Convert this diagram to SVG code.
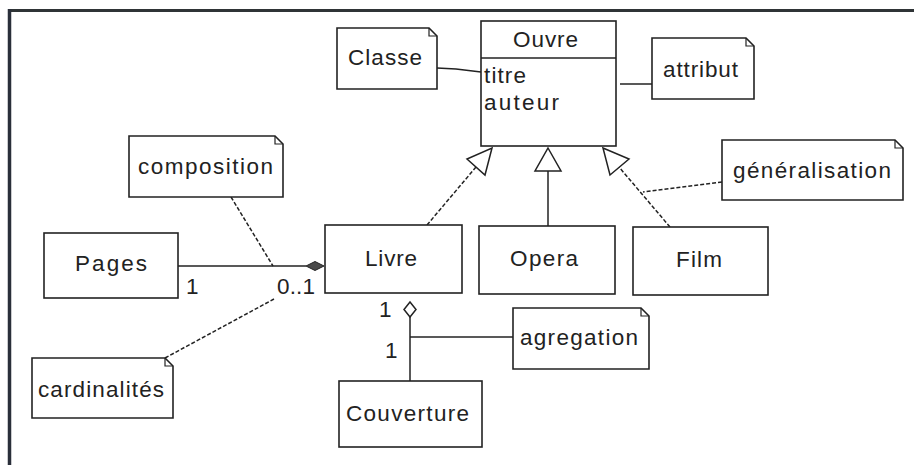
<svg xmlns="http://www.w3.org/2000/svg" width="914" height="466" viewBox="0 0 914 466">
  <style>
    .box { fill: #ffffff; stroke: #222; stroke-width: 1.6; }
    .note { fill: #ffffff; stroke: #222; stroke-width: 1.6; stroke-linejoin: miter; }
    .fold { fill: none; stroke: #222; stroke-width: 1.2; }
    .ln { fill: none; stroke: #222; stroke-width: 1.5; }
    .dash { fill: none; stroke: #222; stroke-width: 1.5; stroke-dasharray: 4 2; }
    .tri { fill: #ffffff; stroke: #222; stroke-width: 1.5; stroke-linejoin: miter; }
    .t { font-family: "Liberation Sans", Arial, sans-serif; font-size: 22.5px; fill: #222; }
  </style>
  <defs>
    <linearGradient id="bottomFade" x1="0" y1="0" x2="1" y2="0">
      <stop offset="0" stop-color="#2a2f3a"/>
      <stop offset="0.6" stop-color="#555"/>
      <stop offset="1" stop-color="#e8e8e0"/>
    </linearGradient>
  </defs>

  <rect x="0" y="0" width="914" height="466" fill="#ffffff"/>

  <!-- frame -->
  <g id="frame">
    <line x1="8" y1="10.5" x2="914" y2="10.5" stroke="#2f3436" stroke-width="3"/>
    <line x1="9.5" y1="9" x2="9.5" y2="465" stroke="#2a2f3a" stroke-width="3.5"/>
    <line x1="8" y1="463.5" x2="914" y2="463.5" stroke="url(#bottomFade)" stroke-width="2.5"/>
  </g>

  <!-- connectors -->
  <g id="connectors">
    <!-- note links -->
    <path class="ln" d="M437,68 L456,69 L481,72"/>
    <path class="ln" d="M620,84 H652"/>
    <path class="dash" d="M231,197 L273,266"/>
    <path class="dash" d="M165,358 L274,299"/>
    <path class="dash" d="M722,182 L643,192"/>
    <path class="ln" d="M410,337 H513"/>

    <!-- composition Pages - Livre -->
    <path class="ln" d="M178,266 H306"/>
    <polygon points="324,266 315,261.5 306,266 315,270.5" fill="#4a4a4a" stroke="#222" stroke-width="1"/>

    <!-- aggregation Livre - Couverture -->
    <path class="ln" d="M410,317 V381"/>
    <polygon class="tri" points="410,302 416,309.5 410,317 404,309.5"/>

    <!-- generalisations to Ouvre -->
    <path class="dash" d="M427,225 L476,167"/>
    <polygon class="tri" points="492,148 485,175 467,159"/>
    <path class="ln" d="M548,226 V171"/>
    <polygon class="tri" points="548,148 561,171 535,171"/>
    <path class="dash" d="M670,227 L619,167"/>
    <polygon class="tri" points="603,148 629,159 610,175"/>

    <!-- multiplicities -->
    <text class="t" x="186" y="294">1</text>
    <text class="t" x="277" y="294" textLength="38" lengthAdjust="spacing">0..1</text>
    <text class="t" x="379" y="317">1</text>
    <text class="t" x="385" y="358">1</text>
  </g>

  <!-- classes -->
  <g id="Ouvre">
    <rect class="box" x="481" y="21" width="135" height="125"/>
    <line class="ln" x1="481" y1="58" x2="616" y2="58"/>
    <text class="t" x="513" y="47" textLength="65" lengthAdjust="spacing">Ouvre</text>
    <text class="t" x="484" y="83" textLength="42" lengthAdjust="spacing">titre</text>
    <text class="t" x="484" y="110" textLength="75" lengthAdjust="spacing">auteur</text>
  </g>
  <g id="Pages">
    <rect class="box" x="44" y="233" width="134" height="65"/>
    <text class="t" x="75" y="271" textLength="72" lengthAdjust="spacing">Pages</text>
  </g>
  <g id="Livre">
    <rect class="box" x="325" y="225" width="137" height="68"/>
    <text class="t" x="365" y="266" textLength="52" lengthAdjust="spacing">Livre</text>
  </g>
  <g id="Opera">
    <rect class="box" x="479" y="226" width="136" height="68"/>
    <text class="t" x="510" y="266" textLength="68" lengthAdjust="spacing">Opera</text>
  </g>
  <g id="Film">
    <rect class="box" x="633" y="227" width="135" height="68"/>
    <text class="t" x="676" y="267" textLength="46" lengthAdjust="spacing">Film</text>
  </g>
  <g id="Couverture">
    <rect class="box" x="339" y="381" width="143" height="66"/>
    <text class="t" x="346" y="421" textLength="123" lengthAdjust="spacing">Couverture</text>
  </g>

  <!-- notes -->
  <g id="note-classe">
    <path class="note" d="M337,28 H429 L437,36 V89 H337 Z"/>
    <path class="fold" d="M429,28 V36 H437"/>
    <text class="t" x="348" y="65" textLength="74" lengthAdjust="spacing">Classe</text>
  </g>
  <g id="note-attribut">
    <path class="note" d="M652,38 H746 L754,46 V99 H652 Z"/>
    <path class="fold" d="M746,38 V46 H754"/>
    <text class="t" x="663" y="77" textLength="75" lengthAdjust="spacing">attribut</text>
  </g>
  <g id="note-composition">
    <path class="note" d="M129,136 H275 L283,144 V197 H129 Z"/>
    <path class="fold" d="M275,136 V144 H283"/>
    <text class="t" x="138" y="174" textLength="135" lengthAdjust="spacing">composition</text>
  </g>
  <g id="note-generalisation">
    <path class="note" d="M722,140 H895 L903,148 V200 H722 Z"/>
    <path class="fold" d="M895,140 V148 H903"/>
    <text class="t" x="733" y="178" textLength="158" lengthAdjust="spacing">généralisation</text>
  </g>
  <g id="note-agregation">
    <path class="note" d="M513,308 H641 L649,316 V369 H513 Z"/>
    <path class="fold" d="M641,308 V316 H649"/>
    <text class="t" x="520" y="345" textLength="118" lengthAdjust="spacing">agregation</text>
  </g>
  <g id="note-cardinalites">
    <path class="note" d="M32,358 H165 L173,366 V418 H32 Z"/>
    <path class="fold" d="M165,358 V366 H173"/>
    <text class="t" x="38" y="397" textLength="126" lengthAdjust="spacing">cardinalités</text>
  </g>
</svg>
